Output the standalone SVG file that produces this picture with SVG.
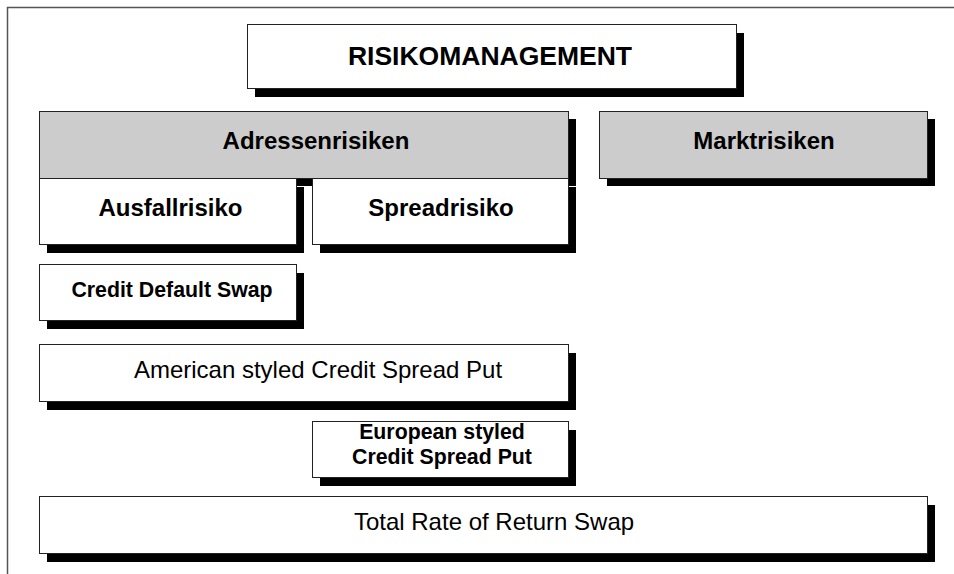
<svg xmlns="http://www.w3.org/2000/svg" width="954" height="574" viewBox="0 0 954 574">
<style>
.frame{fill:none;stroke:#555;stroke-width:1.5}
.sh{fill:#000}
.box{fill:#fff;stroke:#222;stroke-width:1}
.grey{fill:#ccc;stroke:#222;stroke-width:1}
text{font-family:"Liberation Sans",Arial,sans-serif;fill:#000;text-anchor:middle}
.b26{font-size:26.5px;font-weight:bold}
.b24{font-size:24px;font-weight:bold}
.b21{font-size:21.3px;font-weight:bold}
.r24{font-size:24px}
</style>
<rect class="frame" x="7.5" y="7.5" width="970" height="590"/>
<g id="connectors"/>
<g id="title">
<rect class="sh" x="255" y="33" width="489" height="64"/>
<rect class="box" x="247.5" y="24.5" width="489" height="64"/>
<text class="b26" x="490" y="65">RISIKOMANAGEMENT</text>
</g>
<g id="adressenrisiken">
<rect class="sh" x="47" y="119" width="529" height="67"/>
<rect class="grey" x="39.5" y="111.5" width="529" height="67"/>
<text class="b24" x="316" y="149">Adressenrisiken</text>
</g>
<g id="marktrisiken">
<rect class="sh" x="607" y="119" width="328" height="67"/>
<rect class="grey" x="599.5" y="111.5" width="328" height="67"/>
<text class="b24" x="764" y="149">Marktrisiken</text>
</g>
<g id="ausfallrisiko">
<rect class="sh" x="47" y="187" width="257" height="66"/>
<rect class="box" x="39.5" y="178.5" width="257" height="66"/>
<text class="b24" x="170.5" y="216">Ausfallrisiko</text>
</g>
<g id="spreadrisiko">
<rect class="sh" x="320" y="187" width="256" height="66"/>
<rect class="box" x="312.5" y="178.5" width="256" height="66"/>
<text class="b24" x="441" y="216">Spreadrisiko</text>
</g>
<g id="cds">
<rect class="sh" x="47" y="273" width="257" height="56"/>
<rect class="box" x="39.5" y="264.5" width="257" height="56"/>
<text class="b21" x="172" y="297">Credit Default Swap</text>
</g>
<g id="american">
<rect class="sh" x="47" y="353" width="529" height="57"/>
<rect class="box" x="39.5" y="344.5" width="529" height="57"/>
<text class="r24" x="318" y="378">American styled Credit Spread Put</text>
</g>
<g id="european">
<rect class="sh" x="320" y="430" width="256" height="56"/>
<rect class="box" x="312.5" y="421.5" width="256" height="56"/>
<text class="b21" x="442" y="439">European styled</text>
<text class="b21" x="442" y="464">Credit Spread Put</text>
</g>
<g id="total">
<rect class="sh" x="47" y="505" width="888" height="57"/>
<rect class="box" x="39.5" y="496.5" width="888" height="57"/>
<text class="r24" x="494" y="530">Total Rate of Return Swap</text>
</g>
</svg>
